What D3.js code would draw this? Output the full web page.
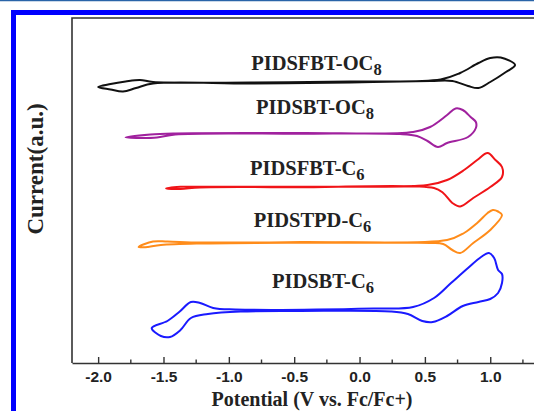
<!DOCTYPE html>
<html>
<head>
<meta charset="utf-8">
<script src="https://cdn.jsdelivr.net/npm/d3@7/dist/d3.min.js"></script>
<style>
  body { margin: 0; background: #fff; }
  svg { display: block; }
  .tick text { font-family: "Liberation Sans", Arial, sans-serif; font-weight: bold; font-size: 15.5px; fill: #222; }
  .lbl { font-family: "Liberation Serif", "Times New Roman", serif; font-weight: bold; fill: #222; }
</style>
</head>
<body>
<svg id="cv" width="534" height="411"></svg>
<script>
// potential (V vs Fc/Fc+), current (a.u., stacked offsets as in the figure)
var blackLoop = [
  [-2.00, 27.6], [-1.905, 27.9], [-1.79, 28.15], [-1.68, 28.3], [-1.58, 28.1], [-0.83, 28.05],
  [-0.07, 28.15], [0.62, 28.35], [0.77, 29.0], [0.91, 30.0], [1.00, 30.5], [1.08, 30.55],
  [1.19, 29.8], [1.12, 29.1], [1.00, 28.1], [0.91, 27.5], [0.83, 27.7], [0.71, 28.2],
  [0.54, 28.2], [-0.07, 28.05], [-0.83, 27.95], [-1.58, 27.95], [-1.71, 27.5], [-1.81, 27.15],
  [-1.905, 27.35]
];
var purpleLoop = [
  [-1.79, 22.55], [-1.60, 22.85], [-1.41, 22.95], [-0.45, 23.0], [0.41, 23.1], [0.54, 23.6],
  [0.67, 24.8], [0.735, 25.45], [0.79, 25.3], [0.85, 24.6], [0.89, 24.1], [0.89, 23.5],
  [0.83, 22.6], [0.67, 22.0], [0.60, 21.6], [0.52, 22.2], [0.44, 22.7], [0.31, 22.9],
  [-0.45, 22.92], [-1.41, 22.85], [-1.55, 22.55], [-1.68, 22.5]
];
var redLoop = [
  [-1.48, 17.45], [-1.37, 17.62], [-1.22, 17.62], [-0.45, 17.63], [0.52, 17.8], [0.67, 18.3],
  [0.80, 19.3], [0.90, 20.3], [0.98, 21.0], [1.04, 20.3], [1.09, 19.6], [1.09, 18.6],
  [1.00, 17.6], [0.87, 16.5], [0.77, 15.65], [0.71, 16.0], [0.64, 17.0], [0.57, 17.5],
  [-0.45, 17.57], [-1.22, 17.55], [-1.37, 17.4]
];
var orangeLoop = [
  [-1.69, 11.6], [-1.58, 12.15], [-1.47, 12.15], [-1.22, 12.05], [-0.45, 12.1], [0.67, 12.3],
  [0.80, 13.0], [0.90, 14.0], [0.98, 15.0], [1.02, 15.3], [1.06, 15.15], [1.09, 14.8],
  [1.00, 13.3], [0.87, 12.0], [0.77, 11.0], [0.71, 11.3], [0.64, 11.9], [0.54, 12.0],
  [-0.45, 12.02], [-1.22, 11.95], [-1.52, 11.8], [-1.64, 11.58]
];
var blueLoop = [
  [-1.59, 3.5], [-1.47, 4.2], [-1.38, 5.1], [-1.29, 6.1], [-1.22, 6.0], [-1.12, 5.5],
  [-0.95, 5.35], [0.11, 5.45], [0.41, 5.6], [0.57, 6.5], [0.70, 8.0], [0.83, 9.5],
  [0.93, 10.6], [0.99, 11.0], [1.03, 10.5], [1.06, 9.3], [1.09, 8.9], [1.09, 8.0],
  [1.06, 7.0], [1.00, 6.4], [0.91, 6.1], [0.79, 5.7], [0.67, 4.7], [0.56, 4.1],
  [0.48, 4.2], [0.37, 4.9], [0.24, 5.15], [-0.45, 5.2], [-0.91, 5.15], [-1.16, 4.9],
  [-1.29, 4.5], [-1.37, 3.3], [-1.45, 2.6], [-1.52, 2.7]
];

var seriesNames = ["PIDSFBT-OC", "PIDSBT-OC", "PIDSFBT-C", "PIDSTPD-C", "PIDSBT-C"];
var seriesSubs = ["8", "8", "6", "6", "6"];
var seriesColors = ["#111111", "#a0219e", "#f01418", "#ff8c1a", "#1a1aff"];
var seriesLoops = [blackLoop, purpleLoop, redLoop, orangeLoop, blueLoop];
// label anchor (potential, current)
var labelPos = [[-0.33, 29.3], [-0.34, 24.9], [-0.40, 18.8], [-0.36, 13.6], [-0.28, 7.5]];

var xTicks = [-2.0, -1.5, -1.0, -0.5, 0.0, 0.5, 1.0];
var xMinor = [-1.75, -1.25, -0.75, -0.25, 0.25, 0.75, 1.25];

var svg = d3.select("#cv");

const padding = { top: 18, left: 72, bottom: 48 };
var height = +svg.attr("height");

var xScale = d3.scaleLinear()
  .domain([-2.2, 1.4])
  .range([padding.left, padding.left + 3.6 * 130.7]);

var yScale = d3.scaleLinear()
  .domain([0, 34.5])
  .range([height - padding.bottom, padding.top]);

// page frame (blue border cropped on the right/bottom)
svg.append("line")
  .attr("x1", 0).attr("x2", 534).attr("y1", 0.5).attr("y2", 0.5)
  .attr("stroke", "#2a64a8").attr("stroke-width", 1.5);
svg.append("rect")
  .attr("x", 13.5).attr("y", 12.5)
  .attr("width", 600).attr("height", 500)
  .attr("fill", "none")
  .attr("stroke", "#0000ff")
  .attr("stroke-width", 5);

// plot frame
svg.append("path")
  .attr("d", `M${xScale(1.4)},${yScale(34.5)}H${xScale(-2.2)}V${yScale(0)}`)
  .attr("fill", "none")
  .attr("stroke", "#333")
  .attr("stroke-width", 1.6);

var xAxis = d3.axisBottom(xScale)
  .tickValues(xTicks)
  .tickSizeInner(-6)
  .tickSizeOuter(0)
  .tickPadding(8)
  .tickFormat(function(d) { return d.toFixed(1); });

var gx = svg.append("g")
  .attr("class", "x-axis")
  .attr("transform", `translate(0,${yScale(0)})`)
  .call(xAxis);
gx.select(".domain").attr("stroke", "#333").attr("stroke-width", 1.6);
gx.selectAll(".tick line").attr("stroke", "#333").attr("stroke-width", 1.4);
gx.selectAll(".tick text").attr("y", 8);

gx.selectAll(".minor")
  .data(xMinor)
  .enter()
  .append("line")
  .attr("class", "minor")
  .attr("x1", function(d) { return xScale(d); })
  .attr("x2", function(d) { return xScale(d); })
  .attr("y1", 0).attr("y2", -3.5)
  .attr("stroke", "#333")
  .attr("stroke-width", 1.4);

// CV loops
var line = d3.line()
  .x(function(d) { return xScale(d[0]); })
  .y(function(d) { return yScale(d[1]); })
  .curve(d3.curveCatmullRomClosed.alpha(0.5));

svg.selectAll(".loop")
  .data(seriesLoops)
  .enter()
  .append("path")
  .attr("class", "loop")
  .attr("d", line)
  .attr("fill", "none")
  .attr("stroke", function(d, i) { return seriesColors[i]; })
  .attr("stroke-width", 2)
  .attr("stroke-linejoin", "round");

// series labels
var labels = svg.selectAll(".series-label")
  .data(seriesNames)
  .enter()
  .append("text")
  .attr("class", "lbl series-label")
  .attr("x", function(d, i) { return xScale(labelPos[i][0]); })
  .attr("y", function(d, i) { return yScale(labelPos[i][1]); })
  .attr("text-anchor", "middle")
  .style("font-size", "20.5px");
labels.append("tspan").text(function(d) { return d; });
labels.append("tspan")
  .attr("dy", 5)
  .style("font-size", "16.5px")
  .text(function(d, i) { return seriesSubs[i]; });

// axis titles
svg.append("text")
  .attr("class", "lbl")
  .attr("x", 312)
  .attr("y", 406.3)
  .attr("text-anchor", "middle")
  .style("font-size", "20px")
  .text("Potential (V vs. Fc/Fc+)");

svg.append("text")
  .attr("class", "lbl")
  .attr("transform", "rotate(-90)")
  .attr("x", -169)
  .attr("y", 43)
  .attr("text-anchor", "middle")
  .style("font-size", "23px")
  .text("Current(a.u.)");
</script>
</body>
</html>
